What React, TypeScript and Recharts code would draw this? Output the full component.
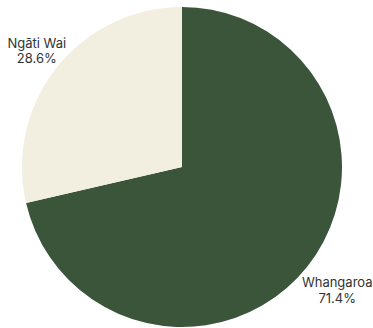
import React from "react";
import { PieChart, Pie, Cell } from "recharts";

const names = ["Whangaroa", "Ngāti Wai"];
const values = [71.4, 28.6];
const colors = ["#3b553b", "#f2eee0"];

const data = names.map((name, i) => ({ name, value: values[i] }));

const RAD = Math.PI / 180;

const renderLabel = (props: any) => {
  const { cx, cy, midAngle, outerRadius, index, value } = props;
  const r = outerRadius + 32;
  const x = cx + r * Math.cos(-midAngle * RAD) + 5;
  const y = cy + r * Math.sin(-midAngle * RAD) + 3;
  return (
    <text
      x={x}
      y={y}
      textAnchor="middle"
      fill="#333333"
      fontSize={13}
      fontFamily="Inter, sans-serif"
    >
      <tspan x={x} dy="-0.2em">{names[index]}</tspan>
      <tspan x={x} dy="1.2em">{`${value.toFixed(1)}%`}</tspan>
    </text>
  );
};

export default function App() {
  return (
    <div style={{ position: "absolute", left: 0, top: 0, background: "#fff" }}>
      <PieChart width={373} height={328} margin={{ top: 0, right: 0, bottom: 0, left: 0 }}>
        <Pie
          data={data}
          dataKey="value"
          nameKey="name"
          cx={182}
          cy={167}
          outerRadius={160}
          startAngle={90}
          endAngle={-270}
          stroke="none"
          label={renderLabel}
          labelLine={false}
          isAnimationActive={false}
        >
          {data.map((d, i) => (
            <Cell key={d.name} fill={colors[i]} />
          ))}
        </Pie>
      </PieChart>
    </div>
  );
}
